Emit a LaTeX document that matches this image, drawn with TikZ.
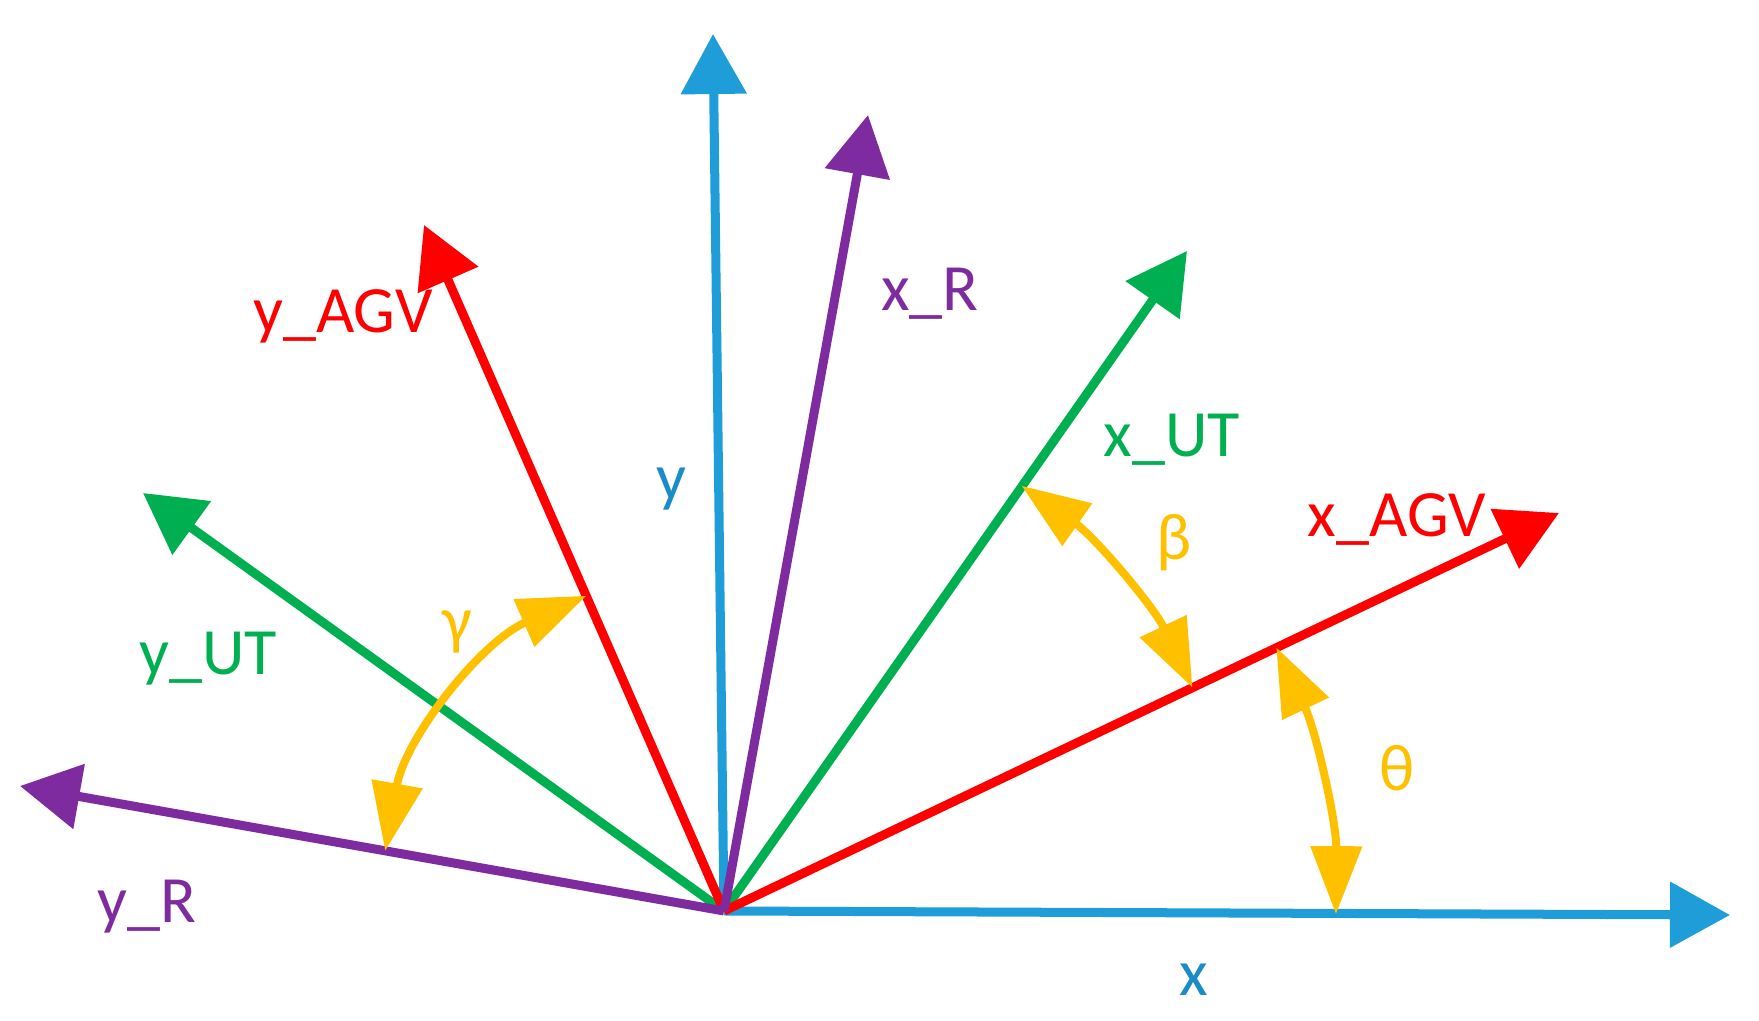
\documentclass[tikz,border=0pt]{standalone}
\usepackage{fontspec}
\setmainfont{Carlito}
\usetikzlibrary{arrows.meta,calc}
\definecolor{axblue}{RGB}{30,157,217}
\definecolor{lblblue}{RGB}{27,140,198}
\definecolor{robpurple}{RGB}{127,43,160}
\definecolor{agvred}{RGB}{255,0,0}
\definecolor{utgreen}{RGB}{0,176,80}
\definecolor{arcyellow}{RGB}{255,192,0}
\begin{document}
\begin{tikzpicture}[x=0.01cm,y=0.01cm,
  axis line/.style={line width=0.09cm,-{Triangle[length=0.6cm,width=0.64cm]}},
  angle arc/.style={draw=arcyellow,line width=0.08cm,line cap=round,
    {Triangle[length=0.68cm,width=0.5cm]}-{Triangle[length=0.68cm,width=0.5cm]}},
  label node/.style={anchor=base,inner sep=0pt,font=\fontsize{18.8}{22}\selectfont}]

  \useasboundingbox (0,0) rectangle (1759,1021);

  \coordinate (O) at (724,110);
  \coordinate (xT) at (1730,106);
  \coordinate (yT) at (713,987);
  \coordinate (xRT) at (868,906);
  \coordinate (yRT) at (20,235);
  \coordinate (xAGVT) at (1559,508);
  \coordinate (yAGVT) at (424,796);
  \coordinate (xUTT) at (1187,770);
  \coordinate (yUTT) at (143,528);

  % frames, back to front
  \path[axis line]
    (O) edge[axblue] (xT)
        edge[axblue] (yT)
    (O) edge[utgreen] (xUTT)
        edge[utgreen] (yUTT)
    (O) edge[agvred] (xAGVT)
        edge[agvred] (yAGVT)
    (O) edge[robpurple] (xRT)
        edge[robpurple] (yRT);

  % angles
  \coordinate (thA) at ($(O)+(-0.3:612)$);
  \coordinate (beA) at ($(O)+(25.5:519)$);
  \coordinate (gaA) at ($(O)+(113.6:344)$);
  \draw[angle arc] (thA) arc[start angle=-0.3,end angle=25.5,radius=6.12cm];
  \draw[angle arc] (beA) arc[start angle=25.5,end angle=55,radius=5.19cm];
  \draw[angle arc] (gaA) arc[start angle=113.6,end angle=169.9,radius=3.44cm];

  \node[label node,text=lblblue] (xlab) at (1194,25) {x};
  \node[label node,text=lblblue] (ylab) at (671,521) {y};
  \node[label node,text=robpurple] (xRlab) at (930,710) {x\_R};
  \node[label node,text=robpurple] (yRlab) at (147,98) {y\_R};
  \node[label node,text=agvred] (xAGVlab) at (1397,484) {x\_AGV};
  \node[label node,text=agvred] (yAGVlab) at (343,688) {y\_AGV};
  \node[label node,text=utgreen] (xUTlab) at (1172,564) {x\_UT};
  \node[label node,text=utgreen] (yUTlab) at (208,346) {y\_UT};
  \node[label node,text=arcyellow] (galab) at (457,378) {γ};
  \node[label node,text=arcyellow] (belab) at (1174,461) {β};
  \node[label node,text=arcyellow] (thlab) at (1397,230) {θ};
\end{tikzpicture}
\end{document}
